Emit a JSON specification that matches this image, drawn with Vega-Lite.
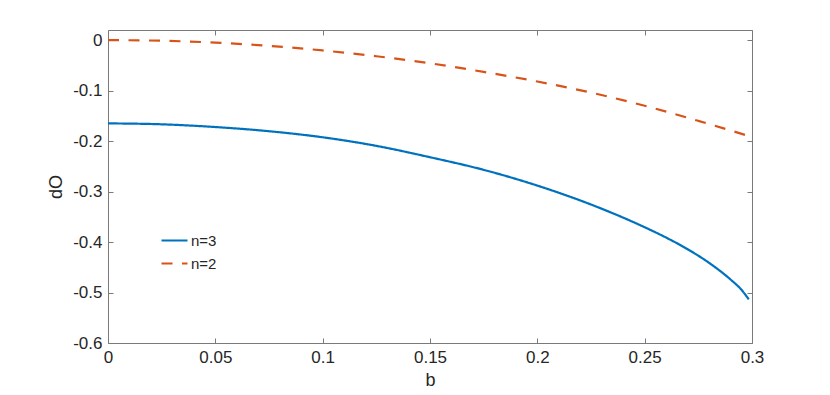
{
  "$schema": "https://vega.github.io/schema/vega-lite/v6.json",
  "width": 644,
  "height": 313,
  "autosize": {"type": "none"},
  "padding": {"left": 108, "top": 30, "right": 78, "bottom": 52},
  "background": "white",
  "config": {
    "font": "Liberation Sans",
    "view": {"stroke": "#7a7a7a", "strokeWidth": 1},
    "axis": {
      "domain": false,
      "grid": false,
      "labelFlush": false,
      "tickColor": "#7a7a7a",
      "tickSize": -5,
      "labelPadding": 11,
      "labelFontSize": 17,
      "labelColor": "#262626",
      "labelFont": "Liberation Sans",
      "titleFont": "Liberation Sans",
      "titleFontSize": 18,
      "titleFontWeight": "normal",
      "titleColor": "#262626"
    }
  },
  "data": {
    "values": [
      {"b": 0, "dO": -0.165, "series": "n=3"},
      {"b": 0.025, "dO": -0.1668, "series": "n=3"},
      {"b": 0.05, "dO": -0.1722, "series": "n=3"},
      {"b": 0.075, "dO": -0.1805, "series": "n=3"},
      {"b": 0.1, "dO": -0.1925, "series": "n=3"},
      {"b": 0.125, "dO": -0.2095, "series": "n=3"},
      {"b": 0.15, "dO": -0.232, "series": "n=3"},
      {"b": 0.175, "dO": -0.257, "series": "n=3"},
      {"b": 0.2, "dO": -0.2882, "series": "n=3"},
      {"b": 0.225, "dO": -0.3257, "series": "n=3"},
      {"b": 0.25, "dO": -0.3707, "series": "n=3"},
      {"b": 0.26, "dO": -0.3912, "series": "n=3"},
      {"b": 0.27, "dO": -0.4142, "series": "n=3"},
      {"b": 0.28, "dO": -0.4412, "series": "n=3"},
      {"b": 0.29, "dO": -0.4742, "series": "n=3"},
      {"b": 0.295, "dO": -0.4942, "series": "n=3"},
      {"b": 0.2985, "dO": -0.5135, "series": "n=3"},
      {"b": 0, "dO": 0, "series": "n=2"},
      {"b": 0.025, "dO": -0.0013, "series": "n=2"},
      {"b": 0.05, "dO": -0.005, "series": "n=2"},
      {"b": 0.075, "dO": -0.0115, "series": "n=2"},
      {"b": 0.1, "dO": -0.0205, "series": "n=2"},
      {"b": 0.125, "dO": -0.032, "series": "n=2"},
      {"b": 0.15, "dO": -0.046, "series": "n=2"},
      {"b": 0.175, "dO": -0.063, "series": "n=2"},
      {"b": 0.2, "dO": -0.082, "series": "n=2"},
      {"b": 0.225, "dO": -0.104, "series": "n=2"},
      {"b": 0.25, "dO": -0.13, "series": "n=2"},
      {"b": 0.275, "dO": -0.16, "series": "n=2"},
      {"b": 0.3, "dO": -0.192, "series": "n=2"}
    ]
  },
  "layer": [
    {
      "mark": {"type": "line", "strokeWidth": 2.2, "strokeCap": "butt", "interpolate": "monotone", "clip": true},
      "encoding": {
        "x": {
          "field": "b", "type": "quantitative",
          "scale": {"domain": [0, 0.3], "nice": false, "zero": false},
          "axis": {"title": "b", "values": [0, 0.05, 0.1, 0.15, 0.2, 0.25, 0.3], "format": "~g", "titlePadding": 6}
        },
        "y": {
          "field": "dO", "type": "quantitative",
          "scale": {"domain": [-0.6, 0.02], "nice": false, "zero": false},
          "axis": {"title": "dO", "values": [-0.6, -0.5, -0.4, -0.3, -0.2, -0.1, 0], "format": "~g", "labelExpr": "replace(datum.label, '−', '-')", "titlePadding": 7}
        },
        "color": {
          "field": "series", "type": "nominal",
          "scale": {"domain": ["n=3", "n=2"], "range": ["#0072BD", "#D95319"]},
          "legend": {
            "title": null, "orient": "none", "legendX": 52, "legendY": 196,
            "labelFontSize": 15, "labelColor": "#262626", "symbolSize": 676,
            "symbolStrokeWidth": 2.2, "rowPadding": -4, "labelOffset": 2
          }
        },
        "strokeDash": {
          "field": "series", "type": "nominal",
          "scale": {"domain": ["n=3", "n=2"], "range": [[1, 0], [11, 9.5]]},
          "legend": {
            "title": null, "orient": "none", "legendX": 52, "legendY": 196,
            "labelFontSize": 15, "labelColor": "#262626", "symbolSize": 676,
            "symbolStrokeWidth": 2.2, "rowPadding": -4, "labelOffset": 2
          }
        }
      }
    },
    {
      "mark": {"type": "line", "opacity": 0},
      "encoding": {
        "x": {
          "field": "b", "type": "quantitative",
          "axis": {"orient": "top", "labels": false, "title": null, "values": [0, 0.05, 0.1, 0.15, 0.2, 0.25, 0.3]}
        },
        "y": {
          "field": "dO", "type": "quantitative",
          "axis": {"orient": "right", "labels": false, "title": null, "values": [-0.6, -0.5, -0.4, -0.3, -0.2, -0.1, 0]}
        }
      }
    }
  ],
  "resolve": {"axis": {"x": "independent", "y": "independent"}}
}
